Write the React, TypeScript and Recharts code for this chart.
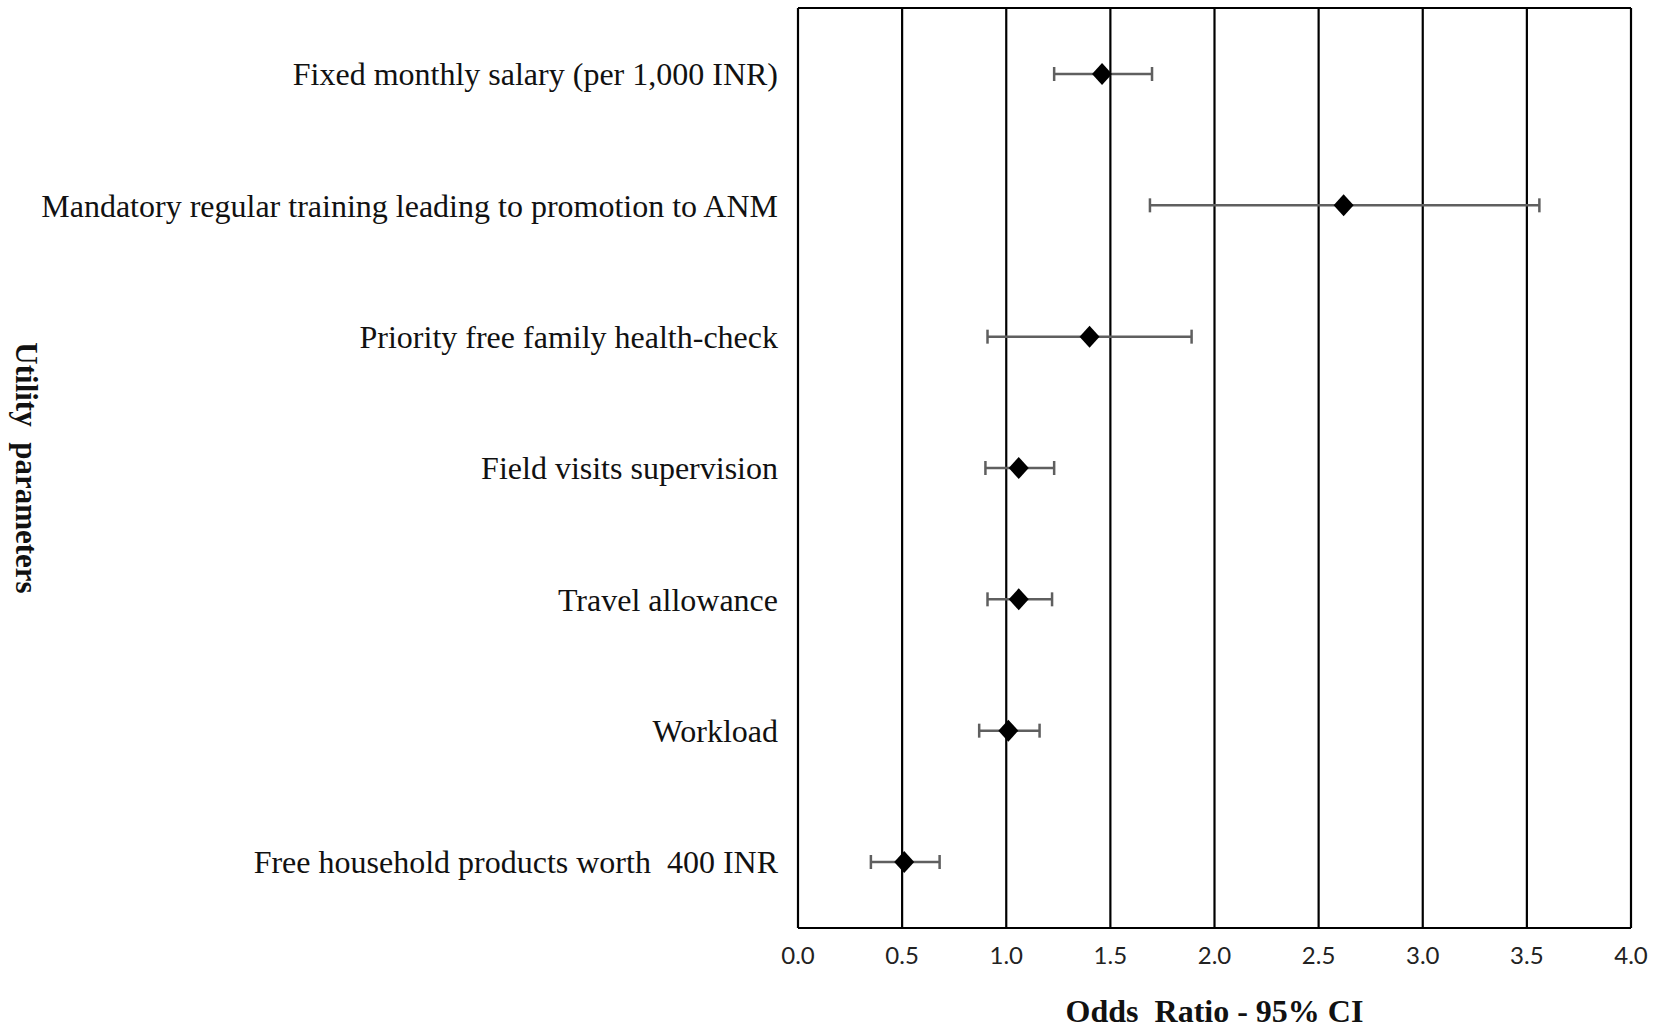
import React from "react";
import {
  ComposedChart,
  Scatter,
  ErrorBar,
  XAxis,
  YAxis,
  CartesianGrid,
} from "recharts";

// Utility parameters, top to bottom
const parameters = [
  "Fixed monthly salary (per 1,000 INR)",
  "Mandatory regular training leading to promotion to ANM",
  "Priority free family health-check",
  "Field visits supervision",
  "Travel allowance",
  "Workload",
  "Free household products worth\u00A0 400 INR",
];

// odds ratios and 95% CI bounds
const oddsRatio = [1.46, 2.62, 1.4, 1.06, 1.06, 1.01, 0.51];
const ciLower = [1.23, 1.69, 0.91, 0.9, 0.91, 0.87, 0.35];
const ciUpper = [1.7, 3.56, 1.89, 1.23, 1.22, 1.16, 0.68];

const xTicks = [0, 0.5, 1, 1.5, 2, 2.5, 3, 3.5, 4];

const data = parameters.map((name, i) => ({
  name,
  or: oddsRatio[i],
  ci: [oddsRatio[i] - ciLower[i], ciUpper[i] - oddsRatio[i]],
}));

const SERIF = '"Liberation Serif", "Times New Roman", serif';
const FRAME = { stroke: "#000", strokeWidth: 2.2 };

const Diamond = (props: any) => {
  const { cx, cy } = props;
  if (cx == null || cy == null) return null;
  const w = 10;
  const h = 11;
  return (
    <polygon
      points={`${cx},${cy - h} ${cx + w},${cy} ${cx},${cy + h} ${cx - w},${cy}`}
      fill="#000"
    />
  );
};

const App: React.FC = () => {
  return (
    <div style={{ position: "absolute", left: 0, top: 0, background: "#fff" }}>
      <ComposedChart
        width={1654}
        height={1029}
        data={data}
        layout="vertical"
        margin={{ top: 8, right: 23, bottom: 0, left: 0 }}
      >
        {/* vertical gridlines + top/bottom edges of the frame */}
        <CartesianGrid
          stroke="#000"
          strokeWidth={2.2}
          strokeOpacity={1}
          horizontalCoordinatesGenerator={({ offset }: any) => [
            offset.top,
            offset.top + offset.height,
          ]}
        />
        <XAxis
          type="number"
          dataKey="or"
          domain={[0, 4]}
          ticks={xTicks}
          tickFormatter={(v: number) => v.toFixed(1)}
          axisLine={FRAME}
          tickLine={false}
          tickSize={0}
          tickMargin={19}
          height={101}
          interval={0}
          tick={{ fontFamily: "Lato, sans-serif", fontSize: 24, fill: "#222" }}
          label={{
            content: (p: any) => {
              const vb = p.viewBox;
              return (
                <text
                  x={vb.x + vb.width / 2}
                  y={vb.y + 94}
                  textAnchor="middle"
                  fontFamily={SERIF}
                  fontWeight="bold"
                  fontSize={32}
                  fill="#111"
                  style={{ whiteSpace: "pre" }}
                >
                  {"Odds\u00A0 Ratio - 95% CI"}
                </text>
              );
            },
          }}
        />
        <YAxis
          type="category"
          dataKey="name"
          width={798}
          padding={{ top: 66, bottom: 66 }}
          axisLine={false}
          tickLine={false}
          tickSize={0}
          tickMargin={20}
          interval={0}
          tick={{ fontFamily: SERIF, fontSize: 32, fill: "#111" }}
          label={{
            content: (p: any) => {
              const vb = p.viewBox;
              const cx = 26;
              const cy = vb.y + vb.height / 2;
              return (
                <text
                  x={cx}
                  y={cy}
                  transform={`rotate(90 ${cx} ${cy})`}
                  textAnchor="middle"
                  dominantBaseline="central"
                  fontFamily={SERIF}
                  fontWeight="bold"
                  fontSize={31}
                  fill="#111"
                  style={{ whiteSpace: "pre" }}
                >
                  {"Utility\u00A0 parameters"}
                </text>
              );
            },
          }}
        />
        <Scatter dataKey="or" shape={<Diamond />} isAnimationActive={false}>
          <ErrorBar
            dataKey="ci"
            direction="x"
            width={7}
            stroke="#5f5f5f"
            strokeWidth={2.5}
            isAnimationActive={false}
          />
        </Scatter>
      </ComposedChart>
    </div>
  );
};

export default App;
